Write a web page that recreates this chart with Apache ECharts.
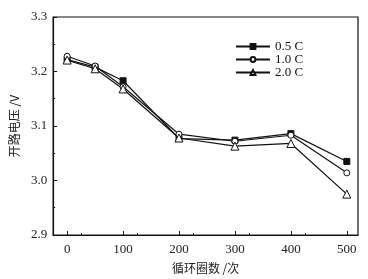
<!DOCTYPE html>
<html>
<head>
<meta charset="utf-8">
<script src="https://cdn.jsdelivr.net/npm/echarts@6/dist/echarts.min.js"></script>
<style>
  html, body { margin: 0; padding: 0; background: #fff; }
  #chart { width: 368px; height: 279px; }
</style>
</head>
<body>
<div id="chart"></div>
<script>
// 循环圈数
var cycles = [0, 50, 100, 200, 300, 400, 500];
// 开路电压 /V
var v05 = [3.222, 3.208, 3.183, 3.077, 3.074, 3.086, 3.035];
var v10 = [3.228, 3.210, 3.172, 3.085, 3.072, 3.083, 3.014];
var v20 = [3.221, 3.205, 3.168, 3.078, 3.063, 3.068, 2.975];
var seriesNames = ['0.5 C', '1.0 C', '2.0 C'];
var xTicks = [0, 100, 200, 300, 400, 500];

var font = '"Times New Roman", "Liberation Serif", serif';

function pairs(vals) {
    return cycles.map(function (c, i) { return [c, vals[i]]; });
}

function makeSeries(name, vals, symbol, fill) {
    return {
        name: name,
        type: 'line',
        data: pairs(vals),
        symbol: symbol,
        symbolSize: symbol === 'triangle' ? 8 : 6,
        showAllSymbol: true,
        lineStyle: { color: '#111', width: 1.2 },
        itemStyle: { color: fill, borderColor: '#111', borderWidth: 1 },
        animation: false
    };
}

var chart = echarts.init(document.getElementById('chart'));
chart.setOption({
    animation: false,
    textStyle: { fontFamily: font },
    grid: { left: 44, right: 10, top: 17, bottom: 41, show: true, borderColor: '#111', borderWidth: 1.2 },
    legend: {
        data: seriesNames,
        orient: 'vertical',
        left: 230,
        top: 35,
        itemWidth: 34,
        itemHeight: 6,
        itemGap: 0,
        textStyle: { fontFamily: font, fontSize: 13, lineHeight: 13, color: '#111' }
    },
    xAxis: {
        type: 'value',
        min: -25,
        max: 520,
        interval: 100,
        name: '循环圈数 /次',
        nameLocation: 'middle',
        nameGap: 27,
        nameTextStyle: { fontFamily: 'Noto Sans CJK SC', fontSize: 12, color: '#222' },
        axisLine: { onZero: false, lineStyle: { color: '#111', width: 1.2 } },
        axisTick: { inside: true, length: 4, lineStyle: { color: '#111' }, customValues: xTicks },
        minorTick: { show: true, splitNumber: 2, length: 2, lineStyle: { color: '#111' } },
        axisLabel: { fontFamily: font, fontSize: 13, color: '#222', margin: 8, customValues: xTicks },
        splitLine: { show: false }
    },
    yAxis: {
        type: 'value',
        min: 2.9,
        max: 3.3,
        interval: 0.1,
        name: '开路电压 /V',
        nameLocation: 'middle',
        nameGap: 31,
        nameTextStyle: { fontFamily: 'Noto Sans CJK SC', fontSize: 12, color: '#222' },
        axisLine: { onZero: false, lineStyle: { color: '#111', width: 1.2 } },
        axisTick: { inside: true, length: 4, lineStyle: { color: '#111' } },
        minorTick: { show: true, splitNumber: 2, length: 2, lineStyle: { color: '#111' } },
        axisLabel: { fontFamily: font, fontSize: 13, color: '#222', margin: 6, formatter: function (v) { return v.toFixed(1); } },
        splitLine: { show: false }
    },
    series: [
        makeSeries(seriesNames[0], v05, 'rect', '#111'),
        makeSeries(seriesNames[1], v10, 'circle', '#fff'),
        makeSeries(seriesNames[2], v20, 'triangle', '#fff')
    ]
});
</script>
</body>
</html>
